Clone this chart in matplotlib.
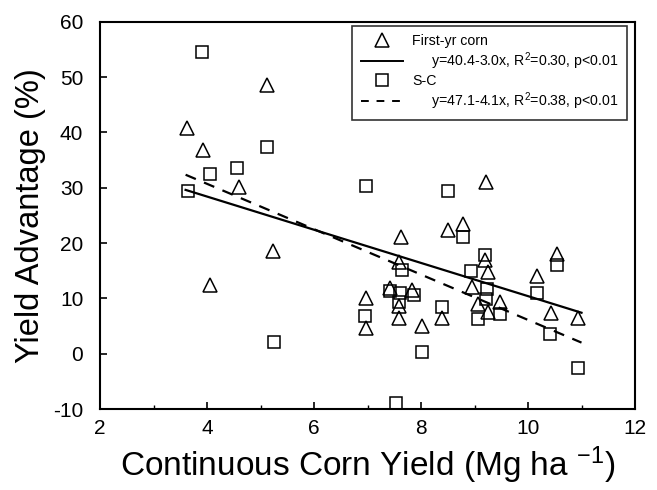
import matplotlib
matplotlib.use("Agg")
import matplotlib.pyplot as plt
from matplotlib.lines import Line2D
import numpy as np

plt.rcParams['font.family'] = ['Liberation Sans', 'DejaVu Sans']
plt.rcParams['mathtext.default'] = 'regular'
plt.rcParams['axes.unicode_minus'] = False

# First-yr corn (triangles)
fy_x = [3.62, 3.92, 4.06, 4.59, 5.12, 5.24, 6.98, 6.97, 7.42, 7.58, 7.59, 7.59, 7.62, 7.84, 8.01,
        8.40, 8.51, 8.78, 8.95, 9.06, 9.20, 9.21, 9.26, 9.26, 9.48, 10.16, 10.43, 10.55, 10.94]
fy_y = [40.7, 36.9, 12.4, 30.2, 48.6, 18.6, 10.1, 4.6, 11.8, 8.6, 6.4, 16.6, 21.1, 11.5, 5.0,
        6.5, 22.3, 23.5, 12.1, 8.9, 16.9, 31.1, 14.8, 7.5, 9.3, 14.0, 7.3, 18.1, 6.4]

# S-C (squares)
sc_x = [3.64, 3.91, 4.06, 4.57, 5.12, 5.25, 6.97, 6.95, 7.42, 7.54, 7.58, 7.61, 7.64, 7.86, 8.01,
        8.40, 8.51, 8.78, 8.93, 9.06, 9.20, 9.24, 9.22, 9.48, 10.16, 10.42, 10.55, 10.94]
sc_y = [29.4, 54.5, 32.5, 33.6, 37.4, 2.1, 30.3, 6.8, 11.4, -9.0, 9.3, 10.9, 15.1, 10.6, 0.3,
        8.4, 29.4, 21.0, 14.9, 6.3, 17.8, 11.7, 9.8, 7.2, 11.0, 3.5, 16.1, -2.6]

# regression fits from the legend
fy_fit = (40.4, -3.0)
sc_fit = (47.1, -4.1)
fit_range = [3.6, 11.0]

fy_label = 'First-yr corn'
fy_eq = 'y=40.4-3.0x, R$^2$=0.30, p<0.01'
sc_label = 'S-C'
sc_eq = 'y=47.1-4.1x, R$^2$=0.38, p<0.01'

fig = plt.figure(figsize=(6.57, 4.90), dpi=100)
ax = fig.add_axes([100/657, 1 - 409/490, 535/657, (409 - 21.7)/490])

ax.plot(fy_x, fy_y, linestyle='none', marker='^', markersize=10, markerfacecolor='none',
        markeredgecolor='black', markeredgewidth=1.1)
ax.plot(sc_x, sc_y, linestyle='none', marker='s', markersize=9, markerfacecolor='none',
        markeredgecolor='black', markeredgewidth=1.1)

xf = np.array(fit_range)
ax.plot(xf, fy_fit[0] + fy_fit[1] * xf, color='black', lw=1.6)
ax.plot(xf, sc_fit[0] + sc_fit[1] * xf, color='black', lw=1.6, dashes=(5, 4))

ax.set_xlim(2, 12)
ax.set_ylim(-10, 60)
ax.set_xticks([2, 4, 6, 8, 10, 12])
ax.set_xticks([3, 5, 7, 9, 11], minor=True)
ax.set_yticks([-10, 0, 10, 20, 30, 40, 50, 60])
ax.tick_params(axis='both', which='major', direction='in', length=5, width=1.2, labelsize=15)
ax.tick_params(axis='x', which='minor', direction='in', length=3, width=1)
ax.tick_params(axis='x', pad=7)
ax.tick_params(axis='y', pad=12)
for s in ax.spines.values():
    s.set_linewidth(1.5)

ax.set_xlabel('Continuous Corn Yield (Mg ha $^{-1}$)', fontsize=24, labelpad=5)
ax.set_ylabel('Yield Advantage (%)', fontsize=23.5, labelpad=5)

handles = [
    Line2D([], [], linestyle='none', marker='^', markersize=10, markerfacecolor='none',
           markeredgecolor='black', markeredgewidth=1.1),
    Line2D([], [], color='black', lw=1.4),
    Line2D([], [], linestyle='none', marker='s', markersize=9, markerfacecolor='none',
           markeredgecolor='black', markeredgewidth=1.1),
    Line2D([], [], color='black', lw=1.4, dashes=(4, 4)),
]
labels = [fy_label, '     ' + fy_eq, sc_label, '     ' + sc_eq]
leg = ax.legend(handles, labels, loc='upper right', bbox_to_anchor=(0.985, 0.99),
                fontsize=10.2, frameon=True, fancybox=False, handlelength=3.0,
                handletextpad=0.6, labelspacing=0.15, borderpad=0.6, borderaxespad=0)
leg.get_frame().set_edgecolor('black')
leg.get_frame().set_linewidth(1.2)

fig.savefig('out.png', dpi=100)
